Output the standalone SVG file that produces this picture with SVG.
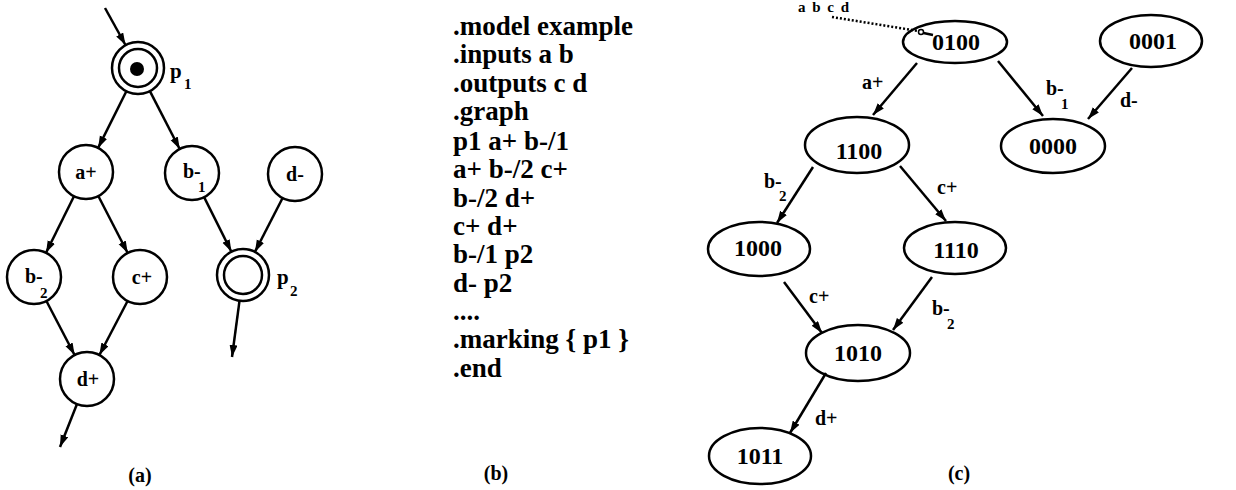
<svg xmlns="http://www.w3.org/2000/svg" width="1236" height="490" viewBox="0 0 1236 490">
<style>
.c{fill:none;stroke:#000;stroke-width:2.5}
.e{stroke:#000;stroke-width:2.5;fill:none;marker-end:url(#ah)}
.t{font-family:"Liberation Serif","Times New Roman",serif;font-weight:bold;fill:#000}
.n{font-size:20px}
.s{font-size:15px}
.st{font-size:24px;text-anchor:middle}
.code{font-size:27px}
.cap{font-size:20px;text-anchor:middle}
</style>
<defs>
<marker id="ah" markerUnits="userSpaceOnUse" markerWidth="13" markerHeight="9" refX="12" refY="4" orient="auto">
<path d="M0,0 L12,4 L0,8 z" fill="#000"/>
</marker>
</defs>
<rect width="1236" height="490" fill="#fff"/>

<!-- Panel (a) -->
<g id="connectors-a">
<line class="e" x1="105" y1="8" x2="125.5" y2="45"/>
<line class="e" x1="126.4" y1="91.2" x2="98.1" y2="147.9"/>
<line class="e" x1="149.9" y1="91.1" x2="179.7" y2="149"/>
<line class="e" x1="74" y1="196.2" x2="46" y2="252.8"/>
<line class="e" x1="98.3" y1="196" x2="127.7" y2="253"/>
<line class="e" x1="204.1" y1="197.1" x2="231.4" y2="251.8"/>
<line class="e" x1="282.6" y1="198" x2="254.9" y2="251.9"/>
<line class="e" x1="46.4" y1="301" x2="74.6" y2="355"/>
<line class="e" x1="127.6" y1="301" x2="99.4" y2="355"/>
<line class="e" x1="77" y1="404" x2="60" y2="447"/>
<line class="e" x1="239.5" y1="300.8" x2="232" y2="357"/>
</g>
<g id="p1">
<circle class="c" cx="138" cy="68" r="26"/>
<circle class="c" cx="138" cy="68" r="19"/>
<circle cx="137" cy="69" r="7" fill="#000"/>
<text class="t" x="170" y="78" font-size="21">p</text>
<text class="t s" x="184" y="89">1</text>
</g>
<g id="a_plus">
<circle class="c" cx="86" cy="172" r="27"/>
<text class="t n" x="86" y="179" text-anchor="middle">a+</text>
</g>
<g id="b_minus_1">
<circle class="c" cx="192" cy="173" r="27"/>
<text class="t n" x="183" y="178">b-</text>
<text class="t s" x="198" y="192">1</text>
</g>
<g id="d_minus">
<circle class="c" cx="295" cy="174" r="27"/>
<text class="t n" x="295" y="181" text-anchor="middle">d-</text>
</g>
<g id="b_minus_2">
<circle class="c" cx="34" cy="277" r="27"/>
<text class="t n" x="25" y="283">b-</text>
<text class="t s" x="40" y="298">2</text>
</g>
<g id="c_plus">
<circle class="c" cx="140" cy="277" r="27"/>
<text class="t n" x="142" y="284" text-anchor="middle">c+</text>
</g>
<g id="p2">
<circle class="c" cx="243" cy="275" r="26"/>
<circle class="c" cx="243" cy="275" r="19"/>
<text class="t" x="277" y="284" font-size="21">p</text>
<text class="t s" x="290" y="296">2</text>
</g>
<g id="d_plus">
<circle class="c" cx="87" cy="379" r="27"/>
<text class="t n" x="88" y="386" text-anchor="middle">d+</text>
</g>
<text class="t cap" x="140" y="482">(a)</text>

<!-- Panel (b) -->
<g id="code">
<text class="t code" x="453" y="35">.model example</text>
<text class="t code" x="453" y="63">.inputs a b</text>
<text class="t code" x="453" y="92">.outputs c d</text>
<text class="t code" x="453" y="120">.graph</text>
<text class="t code" x="453" y="150">p1  a+ b-/1</text>
<text class="t code" x="453" y="178">a+ b-/2 c+</text>
<text class="t code" x="453" y="207">b-/2 d+</text>
<text class="t code" x="453" y="235">c+ d+</text>
<text class="t code" x="453" y="263">b-/1 p2</text>
<text class="t code" x="453" y="292">d- p2</text>
<text class="t code" x="453" y="320">....</text>
<text class="t code" x="453" y="348">.marking { p1 }</text>
<text class="t code" x="453" y="377">.end</text>
</g>
<text class="t cap" x="496" y="480">(b)</text>

<!-- Panel (c) -->
<g id="connectors-c">
<line class="e" x1="917" y1="63" x2="873" y2="115"/>
<line class="e" x1="998" y1="61" x2="1043" y2="116"/>
<line class="e" x1="1132" y1="68" x2="1088" y2="119"/>
<line class="e" x1="813" y1="167" x2="777" y2="223"/>
<line class="e" x1="900" y1="166" x2="946" y2="221"/>
<line class="e" x1="784" y1="282" x2="822" y2="333"/>
<line class="e" x1="932" y1="277" x2="893" y2="330"/>
<line class="e" x1="826" y1="373" x2="790" y2="433"/>
<line x1="832" y1="17" x2="918" y2="31" stroke="#000" stroke-width="2.5" stroke-dasharray="2,2"/>
<circle cx="921" cy="32" r="2.5" fill="#fff" stroke="#000" stroke-width="1.5"/>
<line x1="923.5" y1="33" x2="933" y2="35" stroke="#000" stroke-width="2.5"/>
</g>
<g id="edge-labels-c">
<text class="t n" x="862" y="89">a+</text>
<text class="t n" x="1046" y="95">b-</text>
<text class="t s" x="1061" y="109">1</text>
<text class="t n" x="1120" y="107">d-</text>
<text class="t n" x="764" y="188">b-</text>
<text class="t s" x="779" y="201">2</text>
<text class="t n" x="937" y="194">c+</text>
<text class="t n" x="809" y="303">c+</text>
<text class="t n" x="932" y="315">b-</text>
<text class="t s" x="947" y="329">2</text>
<text class="t n" x="815" y="425">d+</text>
</g>
<text class="t" x="798" y="12" font-size="15" letter-spacing="1.5">a b c d</text>
<g id="s0100">
<ellipse class="c" cx="955" cy="42" rx="52" ry="21"/>
<text class="t st" x="956" y="50">0100</text>
</g>
<g id="s0001">
<ellipse class="c" cx="1151" cy="41" rx="51" ry="26"/>
<text class="t st" x="1153" y="49">0001</text>
</g>
<g id="s0000">
<ellipse class="c" cx="1053" cy="146" rx="52" ry="27"/>
<text class="t st" x="1053" y="154">0000</text>
</g>
<g id="s1100">
<ellipse class="c" cx="857" cy="145" rx="52" ry="28"/>
<text class="t st" x="859" y="159">1100</text>
</g>
<g id="s1000">
<ellipse class="c" cx="759" cy="249" rx="51" ry="27"/>
<text class="t st" x="758" y="256">1000</text>
</g>
<g id="s1110">
<ellipse class="c" cx="955" cy="248" rx="51" ry="26"/>
<text class="t st" x="956" y="258">1110</text>
</g>
<g id="s1010">
<ellipse class="c" cx="858" cy="353" rx="52" ry="28"/>
<text class="t st" x="858" y="361">1010</text>
</g>
<g id="s1011">
<ellipse class="c" cx="760" cy="456" rx="51" ry="28"/>
<text class="t st" x="760" y="464">1011</text>
</g>
<text class="t cap" x="959" y="480">(c)</text>
</svg>
